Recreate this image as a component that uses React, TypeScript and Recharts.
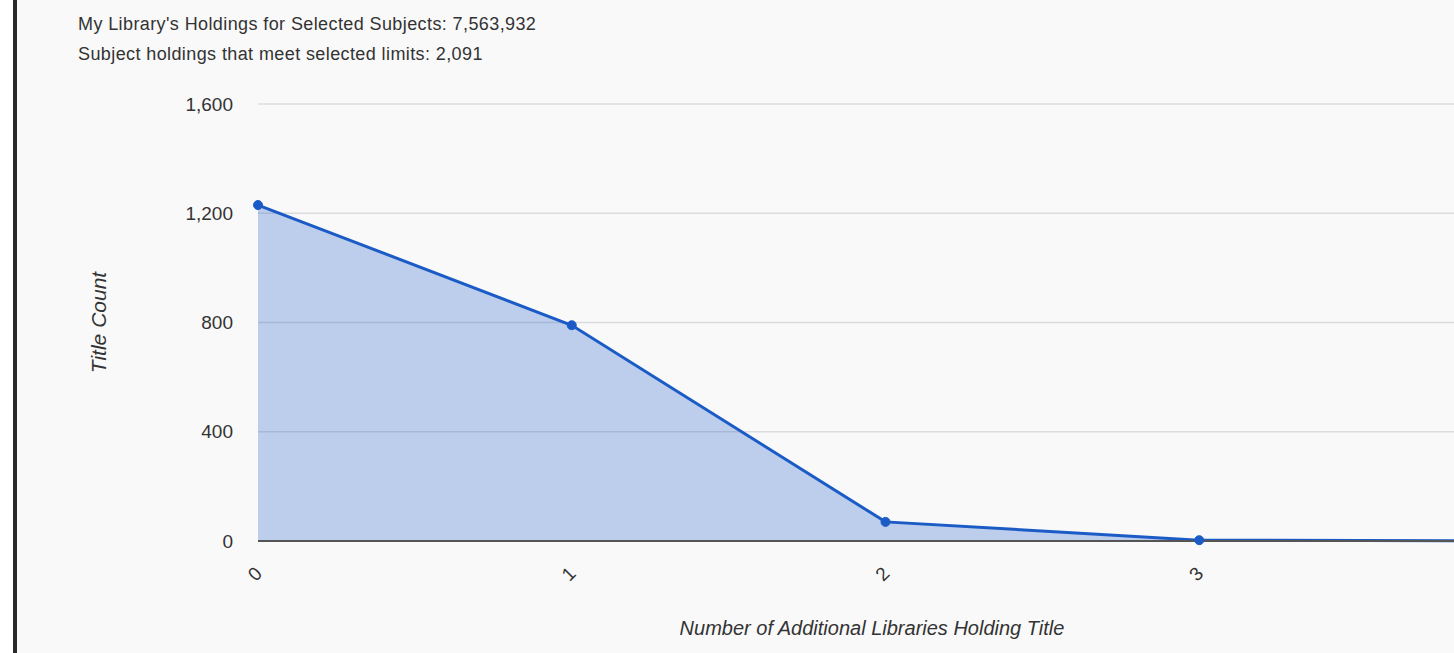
import { Area, AreaChart, CartesianGrid, XAxis, YAxis } from 'recharts';

const libraryCounts = [0, 1, 2, 3, 4];
const titleCounts = [1230, 790, 70, 3, 0];
const xTicks = [0, 1, 2, 3];
const yTicks = [0, 400, 800, 1200, 1600];

const headerLines = [
  "My Library's Holdings for Selected Subjects: 7,563,932",
  'Subject holdings that meet selected limits: 2,091',
];

const data = libraryCounts.map((n, i) => ({ n, count: titleCounts[i] }));

const font = '"Liberation Sans", Arial, sans-serif';

function XTick({ x, y, payload }: any) {
  return (
    <g transform={`translate(${x - 3},${y})`}>
      <text
        transform="rotate(-45)"
        textAnchor="middle"
        dominantBaseline="central"
        fontSize={19}
        fontFamily={font}
        fill="#333"
      >
        {payload.value}
      </text>
    </g>
  );
}

function YTitle({ viewBox }: any) {
  const cy = viewBox.y + viewBox.height / 2;
  return (
    <text
      x={98}
      y={cy}
      transform={`rotate(-90, 98, ${cy})`}
      textAnchor="middle"
      dominantBaseline="central"
      fontSize={21}
      fontStyle="italic"
      fontFamily={font}
      fill="#333"
    >
      Title Count
    </text>
  );
}

function XTitle({ viewBox }: any) {
  return (
    <text
      x={872}
      y={viewBox.y + 87}
      textAnchor="middle"
      dominantBaseline="central"
      fontSize={20}
      fontStyle="italic"
      fontFamily={font}
      fill="#333"
    >
      Number of Additional Libraries Holding Title
    </text>
  );
}

export default function App() {
  return (
    <div
      style={{
        position: 'absolute',
        left: 0,
        top: 0,
        width: 1454,
        height: 653,
        overflow: 'hidden',
        background: '#fff',
      }}
    >
      <div style={{ position: 'absolute', left: 17, top: 0, right: 0, bottom: 0, background: '#f9f9f9' }} />
      <div style={{ position: 'absolute', left: 13, top: 0, width: 4, height: 653, background: '#2a2a2a' }} />
      {headerLines.map((t, i) => (
        <div
          key={t}
          style={{
            position: 'absolute',
            left: 78,
            top: 14 + i * 30,
            fontFamily: font,
            fontSize: 18,
            lineHeight: '21px',
            letterSpacing: 0.4,
            color: '#333',
            whiteSpace: 'nowrap',
          }}
        >
          {t}
        </div>
      ))}
      <div style={{ position: 'absolute', left: 0, top: 0 }}>
        <AreaChart width={1560} height={653} data={data} margin={{ top: 104, right: 47, bottom: 20, left: 0 }}>
          <CartesianGrid vertical={false} stroke="#dcdcdc" strokeWidth={1.5} />
          <XAxis
            dataKey="n"
            type="number"
            domain={[0, 4]}
            ticks={xTicks}
            height={92}
            tickSize={0}
            tickMargin={33}
            tick={<XTick />}
            axisLine={{ stroke: '#555', strokeWidth: 2 }}
            label={<XTitle />}
          />
          <YAxis
            domain={[0, 1600]}
            ticks={yTicks}
            width={258}
            tickSize={0}
            tickMargin={25}
            axisLine={false}
            tickFormatter={(v: number) => v.toLocaleString('en-US')}
            tick={{ fontSize: 19, fontFamily: font, fill: '#333' }}
            label={<YTitle />}
          />
          <Area
            type="linear"
            dataKey="count"
            stroke="#1b5bc6"
            strokeWidth={3}
            fill="#3366cc"
            fillOpacity={0.3}
            dot={{ r: 4.5, fill: '#1b5bc6', fillOpacity: 1, stroke: '#1b5bc6', strokeWidth: 1 }}
            activeDot={false}
            isAnimationActive={false}
          />
        </AreaChart>
      </div>
    </div>
  );
}
